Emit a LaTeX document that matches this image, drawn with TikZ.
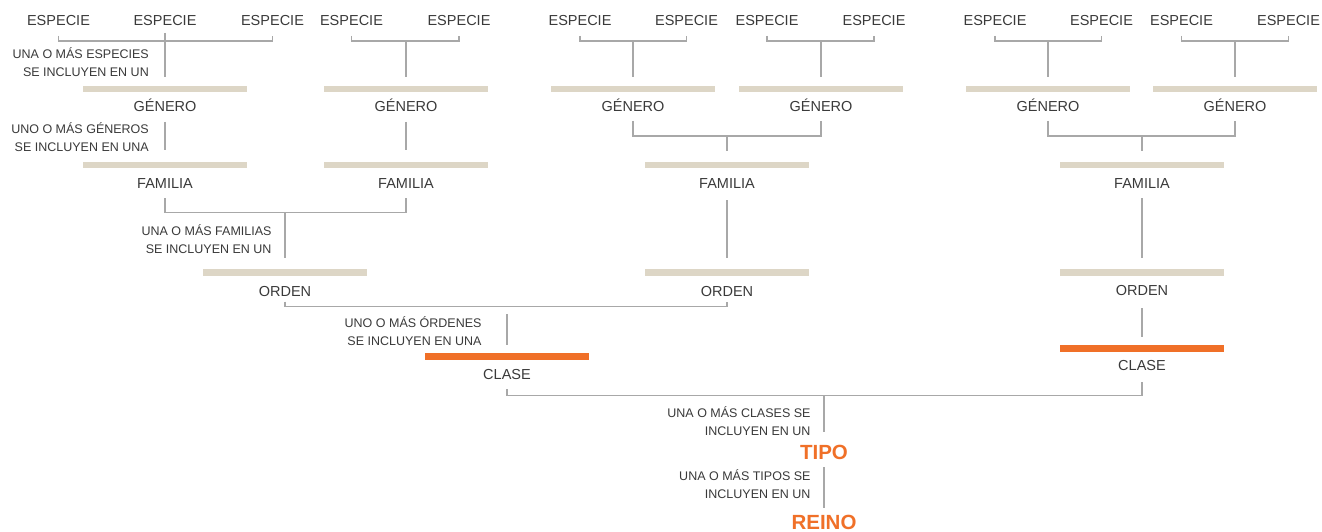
\documentclass[tikz,border=0pt]{standalone}
\usepackage{fontspec}
\setmainfont{Liberation Sans}
\definecolor{txt}{HTML}{3A3A3A}
\definecolor{ln}{HTML}{A8A8A8}
\definecolor{beige}{HTML}{DDD6C6}
\definecolor{orng}{HTML}{F07028}
\tikzset{
  lbl/.style={font=\fontsize{14.5}{17}\selectfont, text=txt, inner sep=0pt, anchor=base},
  note/.style={font=\fontsize{12.5}{15}\selectfont, text=txt, inner sep=0pt, anchor=base east},
  big/.style={font=\fontsize{20.5}{24}\selectfont\bfseries, text=orng, inner sep=0pt, anchor=base},
  bar/.style={fill=beige, draw=none, minimum width=164pt, minimum height=6.5pt, inner sep=0pt},
  obar/.style={bar, fill=orng, minimum height=7pt},
  conn/.style={draw=ln, line width=1.2pt},
}
\begin{document}
\begin{tikzpicture}[x=1pt,y=-1pt]
\fill[white] (0,0) rectangle (1322,532);
\useasboundingbox (0,0) rectangle (1322,532);

% species
\foreach \n/\x in {1/58.5,2/165,3/272.5,4/351.5,5/459,6/580,7/686.5,8/767,9/874,10/995,11/1101.5,12/1181.5,13/1288.5}
  \node[lbl] (s\n) at (\x,26) {ESPECIE};

% genus bars and labels
\foreach \n/\x in {1/165,2/406,3/633,4/821,5/1048,6/1235}{
  \node[bar] (g\n) at (\x,89) {};
  \node[lbl] (gl\n) at (\x,111.5) {GÉNERO};
}
% family bars and labels
\foreach \n/\x in {1/165,2/406,3/727,4/1142}{
  \node[bar] (f\n) at (\x,165) {};
  \node[lbl] (fl\n) at (\x,188.3) {FAMILIA};
}
% order bars and labels
\node[bar] (o1) at (285,272.5) {};
\node[lbl] (ol1) at (285,296) {ORDEN};
\node[bar] (o2) at (727,272.5) {};
\node[lbl] (ol2) at (727,296) {ORDEN};
\node[bar] (o3) at (1142,272.5) {};
\node[lbl] (ol3) at (1142,295.5) {ORDEN};
% classes
\node[obar] (c1) at (507,356.5) {};
\node[lbl] (cl1) at (507,379) {CLASE};
\node[obar] (c2) at (1142,348.3) {};
\node[lbl] (cl2) at (1142,370) {CLASE};
% tipo, reino
\node[big] (tipo) at (824,459) {TIPO};
\node[big] (reino) at (824,529.3) {REINO};

% notes
\node[note] (n1a) at (149,59) {UNA O MÁS ESPECIES};
\node[note] (n1b) at (149,77) {SE INCLUYEN EN UN};
\node[note] (n2a) at (149,133.3) {UNO O MÁS GÉNEROS};
\node[note] (n2b) at (149,151.5) {SE INCLUYEN EN UNA};
\node[note] (n3a) at (271.7,235) {UNA O MÁS FAMILIAS};
\node[note] (n3b) at (271.7,253.3) {SE INCLUYEN EN UN};
\node[note] (n4a) at (481.7,327.3) {UNO O MÁS ÓRDENES};
\node[note] (n4b) at (481.7,345.7) {SE INCLUYEN EN UNA};
\node[note] (n5a) at (810.7,417.3) {UNA O MÁS CLASES SE};
\node[note] (n5b) at (810.7,435) {INCLUYEN EN UN};
\node[note] (n6a) at (810.7,480) {UNA O MÁS TIPOS SE};
\node[note] (n6b) at (810.7,498.3) {INCLUYEN EN UN};

% species -> genus
\draw[conn] (s1.base |- 0,36) -- (s1.base |- 0,41) -- (s3.base |- 0,41) -- (s3.base |- 0,36);
\draw[conn] (g1 |- 0,33) -- (g1 |- 0,77);
\foreach \a/\b/\g in {4/5/2,6/7/3,8/9/4,10/11/5,12/13/6}{
  \draw[conn] (s\a.base |- 0,36) -- (s\a.base |- 0,41) -- (s\b.base |- 0,41) -- (s\b.base |- 0,36);
  \draw[conn] (g\g |- 0,41) -- (g\g |- 0,77);
}

% genus -> family
\draw[conn] (g1 |- 0,122) -- (f1 |- 0,150);
\draw[conn] (g2 |- 0,122) -- (f2 |- 0,150);
\draw[conn] (g3 |- 0,121) -- (g3 |- 0,136) -- (g4 |- 0,136) -- (g4 |- 0,121);
\draw[conn] (f3 |- 0,136) -- (f3 |- 0,151);
\draw[conn] (g5 |- 0,121) -- (g5 |- 0,136) -- (g6 |- 0,136) -- (g6 |- 0,121);
\draw[conn] (f4 |- 0,136) -- (f4 |- 0,151);

% family -> order
\draw[conn] (f1 |- 0,198) -- (f1 |- 0,212.7) -- (f2 |- 0,212.7) -- (f2 |- 0,198);
\draw[conn] (o1 |- 0,212.7) -- (o1 |- 0,258);
\draw[conn] (f3 |- 0,200) -- (o2 |- 0,258);
\draw[conn] (f4 |- 0,198) -- (o3 |- 0,258);

% order -> class
\draw[conn] (o1 |- 0,301.7) -- (o1 |- 0,306.7) -- (o2 |- 0,306.7) -- (o2 |- 0,301.7);
\draw[conn] (c1 |- 0,314) -- (c1 |- 0,345);
\draw[conn] (o3 |- 0,308) -- (c2 |- 0,337);

% class -> tipo -> reino
\draw[conn] (c1 |- 0,389) -- (c1 |- 0,395.5) -- (c2 |- 0,395.5) -- (c2 |- 0,382);
\draw[conn] (tipo |- 0,395.5) -- (tipo |- 0,432.3);
\draw[conn] (tipo |- 0,467.3) -- (reino |- 0,507.7);
\end{tikzpicture}
\end{document}
